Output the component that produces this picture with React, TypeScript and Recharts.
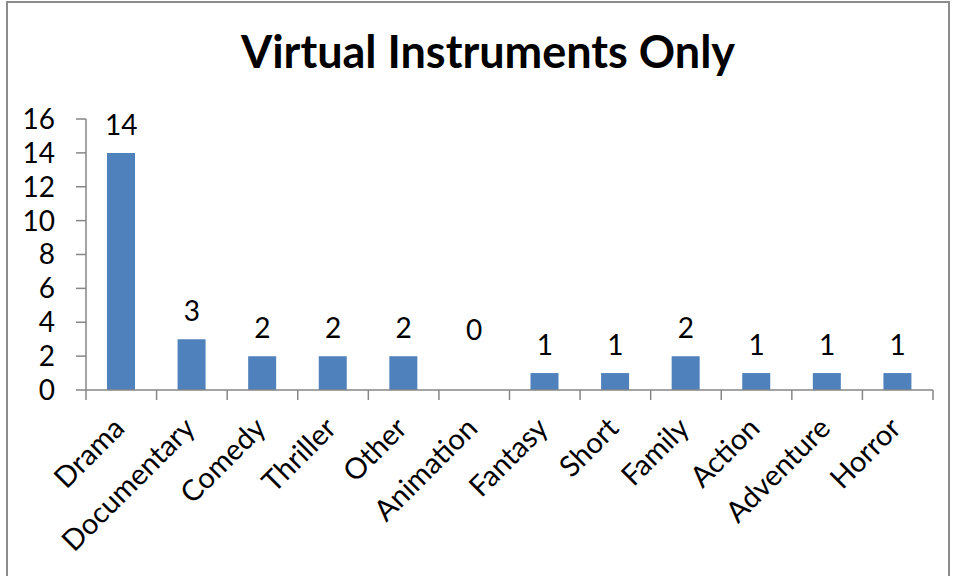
import React from 'react';
import { ComposedChart, Bar, Line, XAxis, YAxis, LabelList } from 'recharts';

const categories = ['Drama', 'Documentary', 'Comedy', 'Thriller', 'Other', 'Animation', 'Fantasy', 'Short', 'Family', 'Action', 'Adventure', 'Horror'];
const counts = [14, 3, 2, 2, 2, 0, 1, 1, 2, 1, 1, 1];
const yTicks = [0, 2, 4, 6, 8, 10, 12, 14, 16];
const title = 'Virtual Instruments Only';

const data = categories.map((c, i) => ({ name: c, value: counts[i] }));

const FONT = 'Lato, "Open Sans", sans-serif';
const AXIS = '#868686';

const XTick = (props: any) => {
  const { x, y, payload, index, width, visibleTicksCount } = props;
  const count = visibleTicksCount || categories.length;
  const step = (width || 0) / count;
  const tx = x + 5;
  const ty = y + 40;
  const left = x - step / 2;
  const right = x + step / 2;
  return (
    <g>
      {step > 0 && <line x1={left} y1={y} x2={left} y2={y + 10} stroke={AXIS} strokeWidth={1.5} />}
      {step > 0 && index === count - 1 && <line x1={right} y1={y} x2={right} y2={y + 10} stroke={AXIS} strokeWidth={1.5} />}
      <text x={tx} y={ty} transform={`rotate(-45, ${tx}, ${ty})`} textAnchor="end" fontSize={29} fontFamily={FONT} fill="#000">
        {payload.value}
      </text>
    </g>
  );
};

const ValueLabel = (props: any) => {
  const { x, y, value } = props;
  const lift = value === 0 ? 50 : 18;
  return (
    <text x={x} y={y - lift} textAnchor="middle" fontSize={28} fontFamily={FONT} fill="#000">
      {value}
    </text>
  );
};

export default function App() {
  return (
    <div style={{ position: 'absolute', left: 0, top: 0, width: 953, height: 576, background: '#fff', overflow: 'hidden' }}>
      <div style={{ position: 'absolute', left: 6, top: 1, width: 944, height: 600, border: '2px solid #8c8c8c', boxSizing: 'border-box' }} />
      <div style={{ position: 'absolute', left: 0, top: 25, width: 976, textAlign: 'center', fontFamily: FONT, fontWeight: 'bold', fontSize: 45, color: '#000', lineHeight: '52px' }}>
        {title}
      </div>
      <div style={{ position: 'absolute', left: 0, top: 0 }}>
        <ComposedChart width={953} height={576} data={data} margin={{ top: 119, right: 20, bottom: 0, left: 0 }} barCategoryGap="20%">
          <YAxis
            type="number"
            domain={[0, 16]}
            ticks={yTicks}
            interval={0}
            width={86}
            axisLine={{ stroke: AXIS, strokeWidth: 1.5 }}
            tickLine={{ stroke: AXIS, strokeWidth: 1.5 }}
            tickSize={10}
            tickMargin={21}
            tick={{ fontSize: 28, fontFamily: FONT, fill: '#000' }}
          />
          <XAxis
            dataKey="name"
            height={186}
            interval={0}
            axisLine={{ stroke: AXIS, strokeWidth: 1.5 }}
            tickLine={false}
            tickSize={0}
            tickMargin={0}
            tick={<XTick />}
          />
          <Bar dataKey="value" fill="#4F81BD" barSize={28} isAnimationActive={false} />
          <Line dataKey="value" stroke="none" dot={false} activeDot={false} isAnimationActive={false}>
            <LabelList dataKey="value" content={<ValueLabel />} />
          </Line>
        </ComposedChart>
      </div>
    </div>
  );
}
